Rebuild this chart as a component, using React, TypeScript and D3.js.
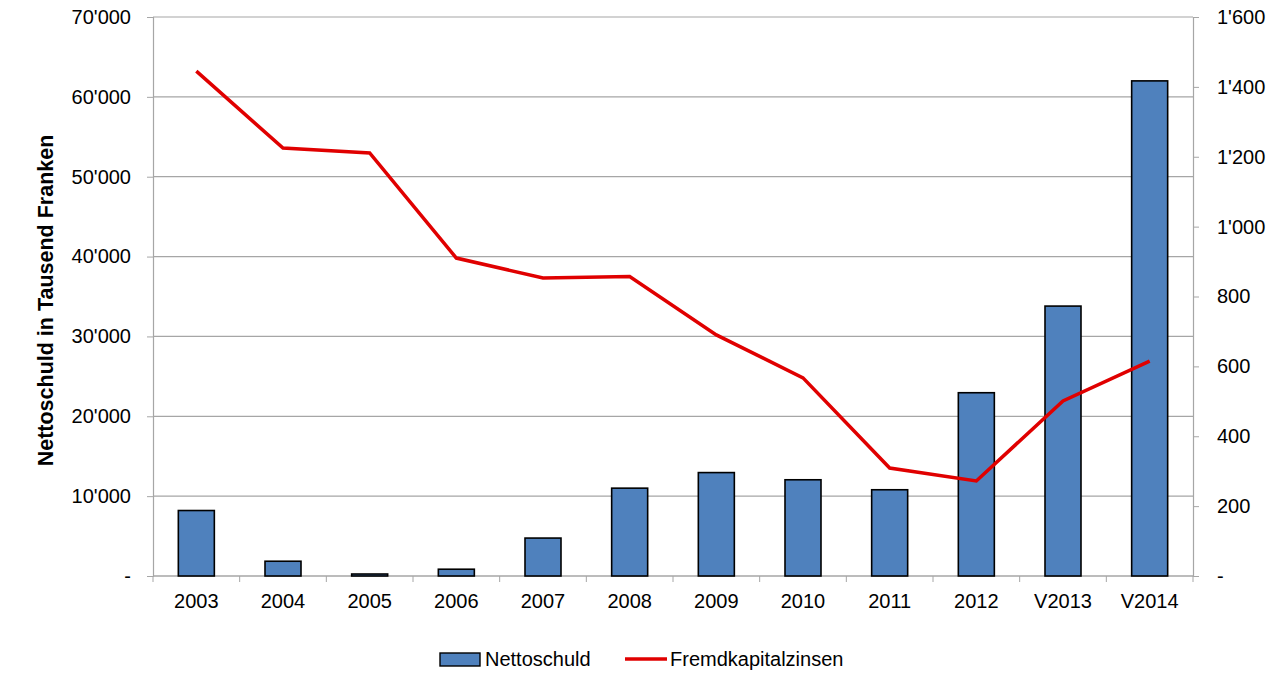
import { useRef, useEffect } from 'react'
import * as d3 from 'd3'

const years = ['2003', '2004', '2005', '2006', '2007', '2008', '2009', '2010', '2011', '2012', 'V2013', 'V2014']
const nettoschuld = [8200, 1850, 250, 850, 4750, 11000, 12950, 12050, 10800, 22950, 33800, 62000]
const fremdkapitalzinsen = [1445, 1225, 1211, 910, 853, 857, 690, 567, 309, 272, 501, 615]
const leftTicks = [0, 10000, 20000, 30000, 40000, 50000, 60000, 70000]
const rightTicks = [0, 200, 400, 600, 800, 1000, 1200, 1400, 1600]

const fmt = (v: number) => (v === 0 ? '-' : d3.format(',')(v).replace(/,/g, "'"))

const App = () => {
  const ref = useRef<SVGSVGElement>(null)

  useEffect(() => {
    document.body.style.margin = '0'
    if (!ref.current) return
    const svg = d3.select(ref.current)
    svg.selectAll('*').remove()
    const width = 1280
    const height = 689
    const m = { top: 17, right: 87, bottom: 113, left: 153 }
    const font = 'Liberation Sans, Arial, sans-serif'
    const fs = 20
    svg.attr('viewBox', `0 0 ${width} ${height}`)

    const x = d3.scaleBand<string>().domain(years).range([m.left, width - m.right])
    const yL = d3.scaleLinear().domain([0, 70000]).range([height - m.bottom, m.top])
    const yR = d3.scaleLinear().domain([0, 1600]).range([height - m.bottom, m.top])
    const grid = '#a6a6a6'

    // gridlines
    svg.append('g')
      .selectAll('line')
      .data(leftTicks)
      .enter()
      .append('line')
      .attr('x1', m.left)
      .attr('x2', width - m.right)
      .attr('y1', d => yL(d))
      .attr('y2', d => yL(d))
      .attr('stroke', grid)
      .attr('stroke-width', 1.2)

    // left axis
    const gl = svg.append('g').attr('transform', `translate(${m.left},0)`)
      .call(d3.axisLeft(yL).tickValues(leftTicks).tickSize(6).tickPadding(16).tickFormat(d => fmt(+d)))
    gl.select('.domain').attr('stroke', grid).attr('stroke-width', 1.2)
    gl.selectAll('.tick line').attr('stroke', grid)
    gl.selectAll('text').attr('font-family', font).attr('font-size', fs).attr('fill', '#000')

    // right axis
    const gr = svg.append('g').attr('transform', `translate(${width - m.right},0)`)
      .call(d3.axisRight(yR).tickValues(rightTicks).tickSize(6).tickPadding(18).tickFormat(d => fmt(+d)))
    gr.select('.domain').attr('stroke', grid).attr('stroke-width', 1.2)
    gr.selectAll('.tick line').attr('stroke', grid)
    gr.selectAll('text').attr('font-family', font).attr('font-size', fs).attr('fill', '#000')

    // x axis
    const gx = svg.append('g').attr('transform', `translate(0,${height - m.bottom})`)
    gx.append('line')
      .attr('x1', m.left).attr('x2', width - m.right)
      .attr('stroke', grid).attr('stroke-width', 1.2)
    gx.selectAll('line.tk')
      .data(d3.range(years.length + 1))
      .enter()
      .append('line')
      .attr('class', 'tk')
      .attr('x1', i => m.left + i * x.step())
      .attr('x2', i => m.left + i * x.step())
      .attr('y1', 0)
      .attr('y2', 6)
      .attr('stroke', grid)
    gx.selectAll('text')
      .data(years)
      .enter()
      .append('text')
      .attr('x', d => x(d)! + x.bandwidth() / 2)
      .attr('y', 32)
      .attr('text-anchor', 'middle')
      .attr('font-family', font)
      .attr('font-size', fs)
      .text(d => d)

    // bars
    const bw = 36
    svg.append('g')
      .selectAll('rect')
      .data(years)
      .enter()
      .append('rect')
      .attr('x', d => x(d)! + x.bandwidth() / 2 - bw / 2)
      .attr('width', bw)
      .attr('y', (_, i) => yL(nettoschuld[i]))
      .attr('height', (_, i) => yL(0) - yL(nettoschuld[i]))
      .attr('fill', '#4f81bd')
      .attr('stroke', '#000')
      .attr('stroke-width', 1.6)

    // line
    const line = d3.line<number>()
      .x((_, i) => x(years[i])! + x.bandwidth() / 2)
      .y(d => yR(d))
    svg.append('path')
      .datum(fremdkapitalzinsen)
      .attr('d', line)
      .attr('fill', 'none')
      .attr('stroke', '#e00000')
      .attr('stroke-width', 3.5)

    // y title
    svg.append('text')
      .attr('transform', `translate(53,${(m.top + height - m.bottom) / 2 + 4}) rotate(-90)`)
      .attr('text-anchor', 'middle')
      .attr('font-family', font)
      .attr('font-size', 21.5)
      .attr('font-weight', 'bold')
      .text('Nettoschuld in Tausend Franken')

    // legend
    const lg = svg.append('g').attr('font-family', font).attr('font-size', fs)
    lg.append('rect')
      .attr('x', 440).attr('y', 653).attr('width', 40).attr('height', 13)
      .attr('fill', '#4f81bd').attr('stroke', '#000').attr('stroke-width', 1.4)
    lg.append('text').attr('x', 485).attr('y', 666).text('Nettoschuld')
    lg.append('line')
      .attr('x1', 625).attr('x2', 667).attr('y1', 659).attr('y2', 659)
      .attr('stroke', '#e00000').attr('stroke-width', 3.5)
    lg.append('text').attr('x', 670).attr('y', 666).text('Fremdkapitalzinsen')
  }, [])

  return <svg ref={ref} width={1280} height={689} style={{ display: 'block' }} />
}

export default App
